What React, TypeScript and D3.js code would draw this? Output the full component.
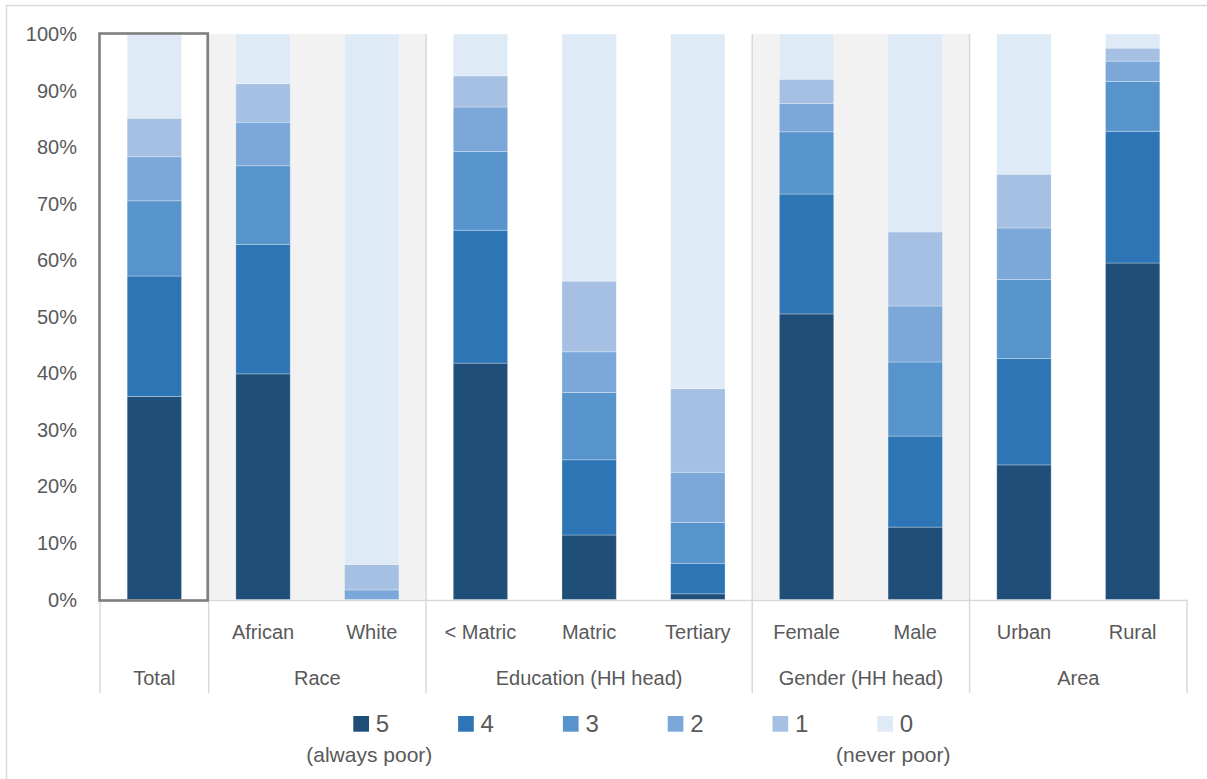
import React from "react";
import * as d3 from "d3";

const categories = ["Total", "African", "White", "< Matric", "Matric", "Tertiary", "Female", "Male", "Urban", "Rural"];
const groupNames = ["Total", "Race", "Education (HH head)", "Gender (HH head)", "Area"];
const groupOf = ["Total", "Race", "Race", "Education (HH head)", "Education (HH head)", "Education (HH head)", "Gender (HH head)", "Gender (HH head)", "Area", "Area"];
const shadedGroups = ["Race", "Gender (HH head)"];

// share of households (%) by number of periods poor
const s5 = [35.9, 39.9, 0.0, 41.8, 11.4, 1.0, 50.5, 12.8, 23.8, 59.5];
const s4 = [21.3, 22.9, 0.0, 23.5, 13.3, 5.4, 21.2, 16.1, 18.8, 23.3];
const s3 = [13.3, 13.9, 0.0, 13.9, 11.9, 7.2, 11.0, 13.1, 14.0, 8.8];
const s2 = [7.8, 7.7, 1.7, 7.9, 7.2, 8.9, 5.0, 9.9, 9.1, 3.6];
const s1 = [6.8, 6.8, 4.5, 5.5, 12.5, 14.8, 4.3, 13.1, 9.5, 2.3];
const s0 = [14.9, 8.8, 93.8, 7.4, 43.7, 62.7, 8.0, 35.0, 24.8, 2.5];

const seriesKeys = ["5", "4", "3", "2", "1", "0"];
const seriesColors = ["#1f4e79", "#2e75b6", "#5794cb", "#7ca8d9", "#a5c0e3", "#deeaf6"];
const legendSub = ["(always poor)", "", "", "", "", "(never poor)"];
const yTicks = [0, 0.1, 0.2, 0.3, 0.4, 0.5, 0.6, 0.7, 0.8, 0.9, 1.0];

const W = 1207;
const H = 779;
const FONT = "'Liberation Sans', Arial, sans-serif";
const TXT = "#595959";

export default function App() {
  const rows = categories.map((c, i) => ({
    cat: c,
    "5": s5[i] / 100,
    "4": s4[i] / 100,
    "3": s3[i] / 100,
    "2": s2[i] / 100,
    "1": s1[i] / 100,
    "0": s0[i] / 100,
  }));
  const stacked = d3.stack<any>().keys(seriesKeys)(rows);

  const plotL = 100, plotR = 1187, plotT = 34, plotB = 599.5;
  const x = d3.scaleBand<string>().domain(categories).range([plotL, plotR]).paddingInner(0.5).paddingOuter(0.25);
  const step = x.step();
  const y = d3.scaleLinear().domain([0, 1]).range([plotB, plotT]);
  const axisBottomY = 693;

  const groups = groupNames.map((g) => {
    const idx = categories.map((_, i) => i).filter((i) => groupOf[i] === g);
    const x0 = plotL + (x(categories[idx[0]])! - plotL) - step * 0.25;
    const start = plotL + idx[0] * step;
    const end = plotL + (idx[idx.length - 1] + 1) * step;
    return { name: g, start, end, idx, x0 };
  });

  const legendX = d3.scaleLinear().domain([0, 5]).range([353.3, 877.3]);

  return (
    <svg width={W} height={H} style={{ position: "absolute", left: 0, top: 0, background: "#fff" }} fontFamily={FONT}>
      <rect x={6.5} y={5.5} width={W + 20} height={H + 20} fill="#fff" stroke="#d9d9d9" strokeWidth={1.5} />
      {/* shaded groups */}
      {groups
        .filter((g) => shadedGroups.includes(g.name))
        .map((g) => (
          <rect key={g.name} x={g.start} y={plotT} width={g.end - g.start} height={plotB - plotT} fill="#f2f2f2" />
        ))}
      {/* group separators */}
      {groups.map((g, i) => (
        <g key={"sep" + i}>
          <line x1={g.start} x2={g.start} y1={i === 0 ? plotB : plotT} y2={axisBottomY} stroke="#d9d9d9" strokeWidth={1.5} />
          {i === groups.length - 1 && (
            <line x1={g.end} x2={g.end} y1={plotB} y2={axisBottomY} stroke="#d9d9d9" strokeWidth={1.5} />
          )}
        </g>
      ))}
      {/* x axis line */}
      <line x1={plotL} x2={plotR} y1={plotB + 1} y2={plotB + 1} stroke="#d9d9d9" strokeWidth={1.5} />
      {/* bars */}
      {stacked.map((layer, si) => (
        <g key={layer.key} fill={seriesColors[si]}>
          {layer.map((d, i) =>
            d[1] - d[0] > 0 ? (
              <rect
                key={i}
                x={x(categories[i])}
                width={x.bandwidth()}
                y={y(d[1])}
                height={y(d[0]) - y(d[1])}
                stroke="rgba(255,255,255,0.35)"
                strokeWidth={0.8}
              />
            ) : null
          )}
        </g>
      ))}
      {/* Total highlight box */}
      <rect x={plotL - 0.5} y={plotT - 0.5} width={step - 0.5} height={plotB - plotT + 1.5} fill="none" stroke="#7f7f7f" strokeWidth={2.6} />
      {/* y ticks */}
      {yTicks.map((t) => (
        <text key={t} x={77} y={y(t)} dy="0.35em" textAnchor="end" fontSize={20} fill={TXT}>
          {d3.format(".0%")(t)}
        </text>
      ))}
      {/* category labels */}
      {categories.map((c, i) =>
        groupOf[i] === c ? null : (
          <text key={c} x={x(c)! + x.bandwidth() / 2} y={639} textAnchor="middle" fontSize={20} fill={TXT}>
            {c}
          </text>
        )
      )}
      {groups.map((g) => (
        <text key={g.name} x={(g.start + g.end) / 2} y={685} textAnchor="middle" fontSize={20} fill={TXT}>
          {g.name}
        </text>
      ))}
      {/* legend */}
      {seriesKeys.map((k, i) => (
        <g key={k}>
          <rect x={legendX(i)} y={716} width={15.7} height={15.7} fill={seriesColors[i]} />
          <text x={legendX(i) + 22.5} y={732} fontSize={24} fill={TXT}>
            {k}
          </text>
          {legendSub[i] && (
            <text x={legendX(i) + 16} y={762} textAnchor="middle" fontSize={21} fill={TXT}>
              {legendSub[i]}
            </text>
          )}
        </g>
      ))}
    </svg>
  );
}
